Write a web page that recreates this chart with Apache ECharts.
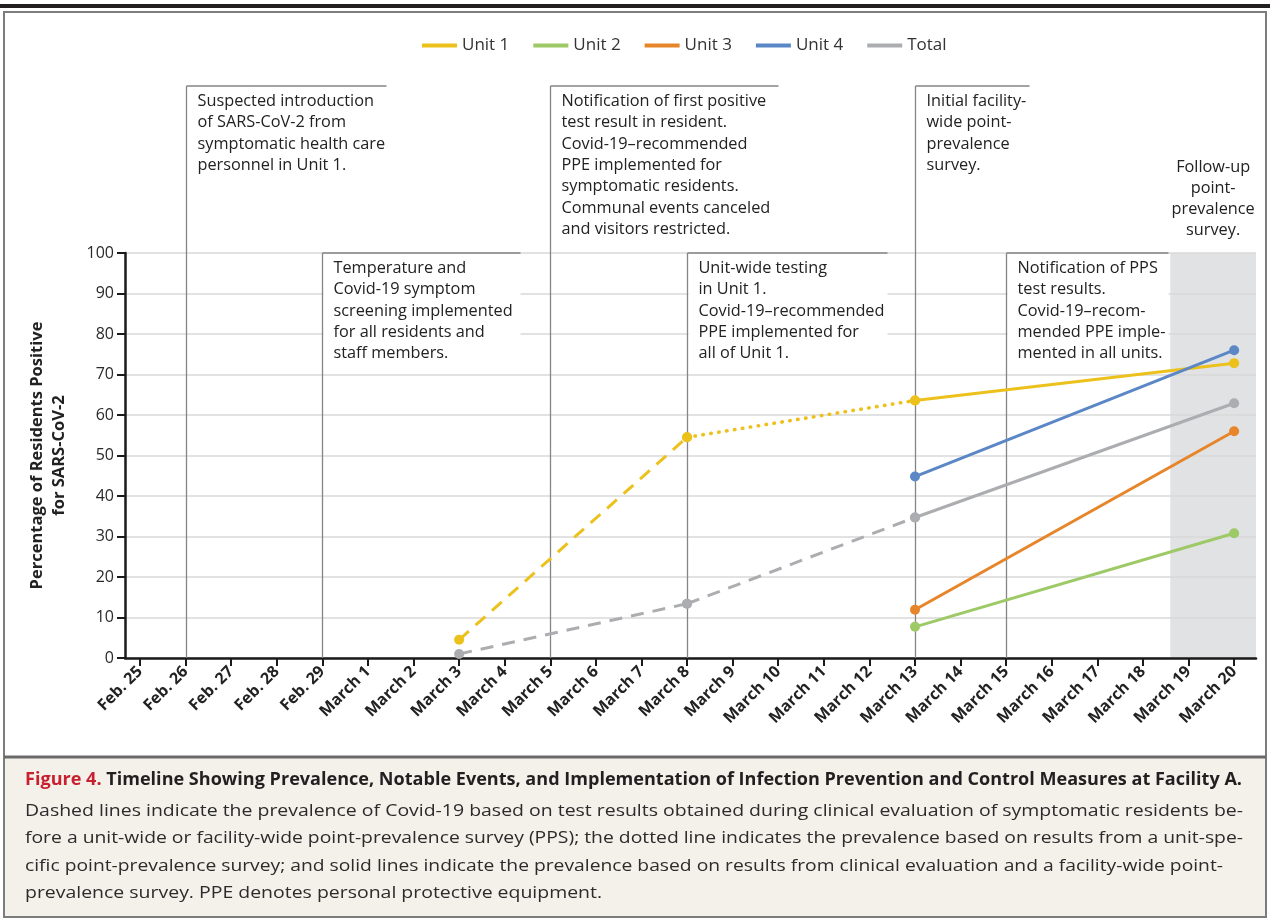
<!DOCTYPE html>
<html><head><meta charset="utf-8">
<script src="https://cdn.jsdelivr.net/npm/echarts@6/dist/echarts.min.js"></script>
<style>html,body{margin:0;padding:0;background:#fff;}#c{width:1270px;height:920px;}</style>
</head><body><div id="c"></div>
<script>
// ---------- data ----------
const dayLabels = ['Feb. 25','Feb. 26','Feb. 27','Feb. 28','Feb. 29','March 1','March 2','March 3','March 4','March 5','March 6','March 7','March 8','March 9','March 10','March 11','March 12','March 13','March 14','March 15','March 16','March 17','March 18','March 19','March 20'];
const yTickValues = [0,10,20,30,40,50,60,70,80,90,100];
const seriesNames = ['Unit 1','Unit 2','Unit 3','Unit 4','Total'];

const unit1Dates = ['March 3','March 8','March 13','March 20'];
const unit1Values = [4.5, 54.5, 63.6, 72.8];
const unit1Segments = ['dashed','dotted','solid'];

const unit2Dates = ['March 13','March 20'];
const unit2Values = [7.7, 30.8];
const unit2Segments = ['solid'];

const unit3Dates = ['March 13','March 20'];
const unit3Values = [11.9, 56.0];
const unit3Segments = ['solid'];

const unit4Dates = ['March 13','March 20'];
const unit4Values = [44.8, 76.0];
const unit4Segments = ['solid'];

const totalDates = ['March 3','March 8','March 13','March 20'];
const totalValues = [1.0, 13.4, 34.7, 62.9];
const totalSegments = ['dashed','dashed','solid'];

const eventDates = ['Feb. 26','Feb. 29','March 5','March 8','March 13','March 15'];
const eventTexts = [
  ['Suspected introduction','of SARS-CoV-2 from','symptomatic health care','personnel in Unit 1.'],
  ['Temperature and','Covid-19 symptom','screening implemented','for all residents and','staff members.'],
  ['Notification of first positive','test result in resident.','Covid-19\u2013recommended','PPE implemented for','symptomatic residents.','Communal events canceled','and visitors restricted.'],
  ['Unit-wide testing','in Unit 1.','Covid-19\u2013recommended','PPE implemented for','all of Unit 1.'],
  ['Initial facility-','wide point-','prevalence','survey.'],
  ['Notification of PPS','test results.','Covid-19\u2013recom-','mended PPE imple-','mented in all units.']
];
const followUpText = ['Follow-up','point-','prevalence','survey.'];
const yAxisTitle = ['Percentage of Residents Positive','for SARS-CoV-2'];
const captionTitleRed = 'Figure 4.';
const captionTitleRest = ' Timeline Showing Prevalence, Notable Events, and Implementation of Infection Prevention and Control Measures at Facility A.';
const captionLines = [
  'Dashed lines indicate the prevalence of Covid-19 based on test results obtained during clinical evaluation of symptomatic residents be-',
  'fore a unit-wide or facility-wide point-prevalence survey (PPS); the dotted line indicates the prevalence based on results from a unit-spe-',
  'cific point-prevalence survey; and solid lines indicate the prevalence based on results from clinical evaluation and a facility-wide point-',
  'prevalence survey. PPE denotes personal protective equipment.'
];

// ---------- styles / layout ----------
const colors = {'Unit 1':'#ecc11c','Unit 2':'#9dc966','Unit 3':'#e7852a','Unit 4':'#5b87c7','Total':'#acadb0'};
const dashStyles = {solid:'solid', dashed:[13,9], dotted:[0.5,7.5]};
const eventLayout = [ // top pixel and box width
  {top:86, w:200},{top:253, w:198},{top:86, w:228},{top:253, w:200},{top:86, w:114},{top:253, w:162}
];
const FONT = '"Open Sans"';
const idx = d => dayLabels.indexOf(d);

const groups = [
  ['Unit 1', unit1Dates, unit1Values, unit1Segments],
  ['Unit 2', unit2Dates, unit2Values, unit2Segments],
  ['Unit 3', unit3Dates, unit3Values, unit3Segments],
  ['Unit 4', unit4Dates, unit4Values, unit4Segments],
  ['Total', totalDates, totalValues, totalSegments]
];
const series = [];
groups.forEach(([name, dates, vals, segs]) => {
  const order = segs.map((s,i)=>i).sort((a,b)=> (segs[a]==='solid'?0:1)-(segs[b]==='solid'?0:1));
  order.forEach(i => {
    const dotted = segs[i]==='dotted';
    series.push({
      name, type:'line', z: 3,
      data: [[idx(dates[i]), vals[i]], [idx(dates[i+1]), vals[i+1]]],
      symbol:'circle', symbolSize: 10, showSymbol: true,
      lineStyle:{color: colors[name], width: dotted?3.6:3, type: dashStyles[segs[i]], cap: dotted?'round':'butt'},
      itemStyle:{color: colors[name]},
      emphasis:{disabled:true}, silent:true, animation:false
    });
  });
});

const chart = echarts.init(document.getElementById('c'), null, {renderer:'canvas'});
const X_MIN = -0.329, X_MAX = 24.48;
chart.setOption({
  animation:false,
  backgroundColor:'#ffffff',
  legend:{
    data: seriesNames, top: 32, left: 417, icon:'rect', itemWidth: 35, itemHeight: 4, itemGap: 24,
    textStyle:{fontFamily: FONT, fontSize: 17, color:'#333'}, selectedMode:false
  },
  grid:{left:125, right:14, top:253, bottom:262, containLabel:false},
  xAxis:{
    type:'value', min: X_MIN, max: X_MAX,
    axisLine:{show:true, onZero:false, lineStyle:{color:'#1a1a1a', width:2.5}},
    axisTick:{show:true, customValues: dayLabels.map((d,i)=>i), length:8, lineStyle:{color:'#1a1a1a', width:2}},
    axisLabel:{show:true, customValues: dayLabels.map((d,i)=>i), formatter: v => dayLabels[Math.round(v)],
      rotate:45, margin:11, fontFamily: FONT, fontWeight:'bold', fontSize:16, color:'#222'},
    splitLine:{show:false}
  },
  yAxis:{
    type:'value', min:0, max:100, interval:10,
    axisLine:{show:true, onZero:false, lineStyle:{color:'#1a1a1a', width:2.5}},
    axisTick:{show:true, length:8, lineStyle:{color:'#1a1a1a', width:2}},
    axisLabel:{fontFamily: FONT, fontSize:16, color:'#2a2a2a', margin:11},
    splitLine:{show:true, lineStyle:{color:'#d8d8d8', width:1.5}}
  },
  series
});

// ---------- overlays from axis scales ----------
const xp = v => chart.convertToPixel({xAxisIndex:0}, v);
const yp = v => chart.convertToPixel({yAxisIndex:0}, v);
const y0 = yp(0), y100 = yp(100);
const shadeStart = 22.6;
const g = [];
// frame
g.push({type:'rect', z:10, shape:{x:0,y:4,width:1270,height:4}, style:{fill:'#231f20'}});
g.push({type:'rect', z:10, shape:{x:4,y:12,width:1262,height:905}, style:{fill:null, stroke:'#7c7c7c', lineWidth:2}});
g.push({type:'rect', z:-5, shape:{x:5,y:758,width:1260,height:158}, style:{fill:'#f4f1eb'}});
g.push({type:'line', z:10, shape:{x1:4,y1:757,x2:1266,y2:757}, style:{stroke:'#6a6a6a', lineWidth:3}});
// shade
g.push({type:'rect', z:-1, shape:{x:xp(shadeStart), y:y100, width:xp(X_MAX)-xp(shadeStart), height:y0-y100}, style:{fill:'#e1e2e4'}});
followUpText.forEach((t,i)=>{
  g.push({type:'text', z:5, x:(xp(shadeStart)+xp(X_MAX))/2, y:167+i*21.2,
    style:{text:t, fontFamily:FONT, fontSize:16.3, fill:'#222', align:'center', verticalAlign:'middle'}});
});
// events
eventDates.forEach((d,k)=>{
  const x = Math.round(xp(idx(d)))+0.5;
  const L = eventLayout[k];
  const lines = eventTexts[k];
  if (L.top > 200) {
    g.push({type:'rect', z:1, shape:{x:x+1, y:L.top+1, width:L.w-1, height:lines.length*21.3+6}, style:{fill:'#fff'}});
  }
  g.push({type:'line', z:1, shape:{x1:x,y1:y0,x2:x,y2:L.top}, style:{stroke:'#858585', lineWidth:1.3}});
  g.push({type:'line', z:1, shape:{x1:x,y1:L.top,x2:x+L.w,y2:L.top}, style:{stroke:'#858585', lineWidth:1.3}});
  lines.forEach((t,i)=>{
    g.push({type:'text', z:5, x:x+11, y:L.top+15.5+i*21.3,
      style:{text:t, fontFamily:FONT, fontSize:16.3, fill:'#222', align:'left', verticalAlign:'middle'}});
  });
});
// y axis title
g.push({type:'text', z:5, x:48, y:(y0+y100)/2, rotation:Math.PI/2,
  style:{text:yAxisTitle.join('\n'), fontFamily:FONT, fontWeight:'bold', fontSize:16.5, lineHeight:22, fill:'#222', align:'center', verticalAlign:'middle'}});
// caption
const cv = document.createElement('canvas').getContext('2d');
const CF = '"Open Sans"';
cv.font = 'bold 17px ' + CF;
const titleW = cv.measureText(captionTitleRed + captionTitleRest).width;
const titleScale = 1217 / titleW;
g.push({type:'text', z:11, x:25, y:780, scaleX: titleScale, scaleY:1,
  style:{text:'{r|' + captionTitleRed + '}{b|' + captionTitleRest + '}', align:'left', verticalAlign:'middle',
    rich:{r:{fontFamily:CF, fontWeight:'bold', fontSize:17, fill:'#c8202f'}, b:{fontFamily:CF, fontWeight:'bold', fontSize:17, fill:'#231f20'}}}});
const targetWidths = [1218, 1218, 1198, 569];
cv.font = '17px ' + CF;
captionLines.forEach((t,i)=>{
  const w = cv.measureText(t).width;
  const s = i < 3 ? targetWidths[i]/w : targetWidths[0]/cv.measureText(captionLines[0]).width;
  g.push({type:'text', z:11, x:25, y:811+i*27.5, scaleX: s, scaleY:1,
    style:{text:t, fontFamily:CF, fontSize:17, fill:'#2b2b2b', align:'left', verticalAlign:'middle'}});
});
chart.setOption({graphic: g});
</script>
</body></html>
